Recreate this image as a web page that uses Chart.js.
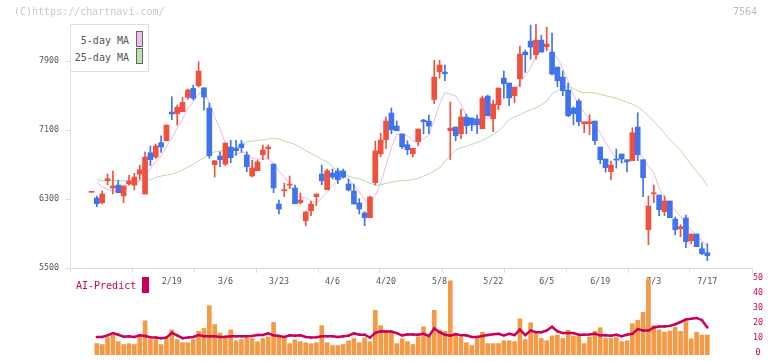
<!DOCTYPE html>
<html>
<head>
<meta charset="utf-8">
<script src="https://cdn.jsdelivr.net/npm/chart.js@4.4.1/dist/chart.umd.min.js"></script>
<style>
  body { margin: 0; background: #fff; }
  #wrap { position: relative; width: 772px; height: 361px; overflow: hidden; font-family: 'DejaVu Sans Mono', monospace; }
  canvas { position: absolute; left: 0; }
  #main { top: 0; }
  #sub { top: 270px; }
  .txt { position: absolute; white-space: pre; font-size: 10px; line-height: 12px; }
  #legend { position: absolute; left: 70px; top: 24px; width: 79px; height: 48px; box-sizing: border-box; border: 1px solid #ddd; background: #fff; }
  .sw { position: absolute; width: 7px; height: 16px; box-sizing: border-box; border: 1px solid #666; }
</style>
</head>
<body>
<div id="wrap">
  <canvas id="main" width="772" height="300"></canvas>
  <canvas id="sub" width="772" height="91"></canvas>
  <div class="txt" style="left:14px;top:6px;color:#c8c8c8">(C)https://chartnavi.com/</div>
  <div class="txt" style="left:733px;top:6px;color:#bbb">7564</div>
  <div id="legend">
    <div class="txt" style="right:19px;top:10px;color:#555">5-day MA</div>
    <div class="txt" style="right:19px;top:27px;color:#555">25-day MA</div>
    <div class="sw" style="left:65px;top:6px;background:#efbdef"></div>
    <div class="sw" style="left:65px;top:23px;background:#bfe0b0"></div>
  </div>
  <div class="txt" style="left:76px;top:280px;color:#c8005a">AI-Predict</div>
  <div style="position:absolute;left:142px;top:277px;width:7px;height:16px;background:#c8005a"></div>
</div>
<script>
// trading days shown on the chart
const dates = [
  '1/28','1/29','1/30','2/2','2/3','2/4','2/5','2/6','2/9','2/10',
  '2/12','2/13','2/16','2/17','2/18','2/19','2/20','2/24','2/25','2/26',
  '2/27','3/2','3/3','3/4','3/5','3/6','3/9','3/10','3/11','3/12',
  '3/13','3/16','3/17','3/18','3/19','3/23','3/24','3/25','3/26','3/27',
  '3/30','3/31','4/1','4/2','4/3','4/6','4/7','4/8','4/9','4/10',
  '4/13','4/14','4/15','4/16','4/17','4/20','4/21','4/22','4/23','4/24',
  '4/27','4/28','4/30','5/1','5/7','5/8','5/11','5/12','5/13','5/14',
  '5/15','5/18','5/19','5/20','5/21','5/22','5/25','5/26','5/27','5/28',
  '5/29','6/1','6/2','6/3','6/4','6/5','6/8','6/9','6/10','6/11',
  '6/12','6/15','6/16','6/17','6/18','6/19','6/22','6/23','6/24','6/25',
  '6/26','6/29','6/30','7/1','7/2','7/3','7/6','7/7','7/8','7/9',
  '7/10','7/13','7/14','7/15','7/16','7/17'
];

const opens = [
  6378,6312,6257,6512,6428,6462,6338,6477,6462,6590,
  6358,6837,6787,6953,6976,7309,7289,7312,7479,7583,
  7614,7590,7355,6698,6799,6706,6903,6891,6938,6810,
  6567,6628,6814,6883,6706,6242,6396,6462,6428,6257,
  6048,6164,6327,6590,6408,6601,6625,6625,6474,6393,
  6254,6138,6083,6489,6825,6988,7297,7146,7054,6930,
  6825,6964,7216,7204,7455,7776,7772,7092,7135,7057,
  7251,7239,7228,7115,7494,7231,7393,7703,7645,7498,
  7695,8004,8132,7973,8143,8066,8004,7830,7714,7564,
  7355,7436,7173,7173,7204,6903,6764,6617,6764,6822,
  6756,6744,7135,6756,5944,6361,6346,6153,6277,6068,
  5956,6080,5817,5894,5724,5677
];
const highs = [
  6378,6335,6393,6590,6625,6517,6451,6575,6598,6694,
  6848,6915,6938,7034,7158,7486,7390,7479,7575,7622,
  7892,7590,7413,6744,6848,6949,6981,6981,6981,6848,
  6752,6752,6926,6926,6706,6288,6485,6567,6462,6370,
  6161,6273,6358,6694,6648,6648,6659,6648,6532,6474,
  6304,6153,6335,6972,7065,7251,7355,7204,7054,6976,
  6888,7112,7224,7274,7908,7908,7854,7425,7135,7343,
  7286,7239,7274,7494,7506,7448,7587,7784,7645,7598,
  8074,8027,8317,8329,8201,8294,8225,7830,7784,7645,
  7367,7459,7196,7277,7204,6903,6764,6740,6880,6822,
  6756,7127,7301,6756,6335,6462,6346,6335,6277,6091,
  6002,6114,5894,5894,5793,5782
];
const lows = [
  6378,6211,6242,6466,6358,6373,6257,6462,6404,6528,
  6358,6686,6772,6841,6976,7219,7158,7312,7459,7448,
  7599,7332,6772,6555,6674,6686,6721,6807,6841,6617,
  6555,6628,6756,6764,6373,6126,6327,6419,6245,6242,
  5990,6106,6222,6466,6408,6532,6477,6543,6393,6242,
  6126,5990,6083,6462,6790,6883,7057,7092,6883,6814,
  6790,6918,7057,7057,7405,7703,7672,6756,6976,6999,
  7057,7092,7057,7115,7266,7080,7335,7474,7382,7417,
  7602,7769,7923,7923,8004,8019,7738,7602,7498,7254,
  7161,7150,7069,7045,6930,6709,6613,6524,6659,6717,
  6613,6744,6744,6327,5770,6257,6106,6106,6083,5886,
  5863,5735,5782,5747,5654,5585
];
const closes = [
  6378,6245,6358,6535,6451,6373,6451,6509,6555,6640,
  6787,6756,6915,6903,7158,7286,7363,7421,7564,7468,
  7784,7483,6802,6744,6756,6949,6779,6860,6895,6674,
  6659,6729,6868,6903,6428,6184,6408,6474,6245,6288,
  6149,6242,6358,6512,6628,6555,6524,6555,6404,6242,
  6184,6083,6323,6857,6984,7204,7103,7092,6906,6872,
  6888,7112,7196,7146,7714,7854,7753,7123,7034,7251,
  7150,7161,7161,7471,7266,7401,7587,7637,7474,7598,
  7981,7973,8062,8143,8004,8097,7749,7672,7556,7266,
  7289,7196,7196,7196,6976,6756,6663,6694,6752,6764,
  6733,7069,6814,6547,6219,6373,6176,6277,6083,5944,
  5979,5805,5894,5747,5666,5643
];

const ma5 = [
  null,6494,6443,6412,6393,6392,6434,6464,6468,6506,
  6588,6649,6731,6800,6904,7004,7125,7226,7358,7420,
  7520,7544,7420,7256,7114,6947,6806,6818,6848,6831,
  6773,6763,6765,6767,6717,6622,6558,6479,6348,6320,
  6313,6280,6256,6310,6378,6459,6515,6555,6533,6456,
  6382,6294,6247,6338,6486,6690,6894,7048,7058,7035,
  6972,6974,6995,7043,7211,7404,7533,7518,7496,7403,
  7262,7144,7151,7239,7242,7292,7377,7472,7473,7539,
  7655,7733,7818,7951,8033,8056,8011,7933,7816,7668,
  7506,7396,7301,7229,7171,7064,6957,6857,6768,6726,
  6721,6802,6826,6785,6676,6604,6426,6318,6226,6171,
  6092,6018,5941,5874,5818,5751
];
const ma25 = [
  null,6524,6512,6512,6512,6512,6512,6512,6512,6512,
  6512,6524,6551,6567,6578,6586,6609,6640,6671,6702,
  6741,6779,6818,6845,6857,6865,6872,6891,6940,6965,
  6972,6980,6984,6996,7004,6996,6972,6953,6934,6899,
  6860,6830,6795,6760,6729,6674,6628,6598,6563,6547,
  6535,6512,6482,6462,6462,6482,6494,6509,6512,6517,
  6524,6540,6567,6590,6625,6663,6741,6802,6865,6895,
  6914,6934,6957,6980,7011,7050,7088,7150,7224,7251,
  7274,7312,7332,7359,7390,7436,7520,7560,7599,7602,
  7583,7549,7533,7537,7529,7514,7498,7483,7471,7444,
  7421,7401,7367,7324,7266,7201,7138,7062,6988,6926,
  6868,6779,6694,6617,6547,6454
];

const volume = [
  null,7.6,7.0,11.6,13.3,8.9,7.0,7.6,7.0,12.2,
  22.8,10.3,10.3,7.0,10.3,16.7,10.3,8.2,8.2,10.3,
  15.8,17.7,32.9,20.3,14.6,11.4,16.7,9.5,10.3,11.4,
  11.0,8.9,11.0,12.0,21.7,11.8,11.4,7.6,10.1,8.9,
  8.2,7.6,8.2,19.6,8.2,6.3,6.3,7.0,9.5,11.0,
  8.2,11.4,8.9,29.8,19.6,15.0,15.6,7.6,10.8,8.9,
  7.0,12.2,18.8,13.1,29.8,16.7,15.8,49.4,13.1,11.6,
  8.2,6.3,11.0,15.2,7.6,7.6,7.6,9.5,9.5,8.9,
  24.1,10.3,21.5,14.1,11.0,9.5,12.7,13.3,11.0,16.5,
  12.7,12.7,7.6,12.0,15.8,18.2,11.0,11.0,11.6,8.9,
  9.5,20.9,23.2,28.5,50.7,19.6,16.7,15.2,16.0,18.4,
  15.8,22.2,10.8,15.2,13.3,13.3
];
const aiPredict = [
  null,12.0,12.0,13.1,14.6,13.5,12.2,12.5,12.0,13.1,
  12.7,11.8,11.6,11.2,11.6,14.8,13.1,11.2,11.6,12.0,
  13.3,12.5,12.5,12.5,12.0,12.2,12.5,12.5,12.5,12.5,
  12.7,13.3,13.3,14.4,13.1,12.7,12.0,13.1,12.9,13.1,
  12.0,11.6,11.8,12.5,12.5,12.5,12.0,12.5,12.9,14.4,
  13.5,13.5,11.6,14.8,15.8,15.6,15.6,14.6,13.1,13.7,
  13.7,13.5,14.1,12.7,17.7,15.2,13.5,12.9,13.9,13.1,
  13.1,12.0,12.0,12.7,13.3,13.9,14.1,13.1,14.1,13.3,
  16.9,13.3,16.3,15.2,15.2,16.3,18.8,15.8,14.6,14.6,
  14.6,13.5,13.5,13.7,14.1,13.1,13.1,12.9,13.5,12.5,
  13.5,14.1,17.3,16.3,16.3,18.4,19.0,19.0,19.4,20.5,
  22.0,23.6,24.1,24.7,23.2,18.4
];

const priceTicks = [5500, 6300, 7100, 7900];
const aiTicks = [0, 10, 20, 30, 40, 50];
const dateTickIdx = [15, 25, 35, 45, 55, 65, 75, 85, 95, 105, 115];

Chart.defaults.font.family = "'DejaVu Sans Mono', monospace";

const UP = '#f0503e';
const DOWN = '#3f74ee';
const candleColors = closes.map((c, i) => c >= opens[i] ? UP : DOWN);

const xMin = -4.015, xMax = 123.34;
const gridTicks = [];
for (let k = 0; k <= 11; k++) gridTicks.push({ value: xMin + k * (xMax - xMin) / 11 });

const pts = arr => arr.map((v, i) => ({ x: i, y: v }));

new Chart(document.getElementById('main'), {
  type: 'bar',
  data: {
    datasets: [
      { type: 'line', data: pts(ma25), borderColor: '#b6dca6', borderWidth: 1, pointRadius: 0, order: 4 },
      { type: 'line', data: pts(ma5), borderColor: '#ebb6eb', borderWidth: 1, pointRadius: 0, order: 3 },
      { data: lows.map((v, i) => ({ x: i, y: [v, highs[i]] })), backgroundColor: candleColors,
        barThickness: 1, minBarLength: 1, grouped: false, order: 2 },
      { data: opens.map((v, i) => ({ x: i, y: [v, closes[i]] })), backgroundColor: candleColors,
        barThickness: 5, minBarLength: 1, grouped: false, order: 1 }
    ]
  },
  options: {
    responsive: false,
    animation: false,
    devicePixelRatio: 1,
    layout: { padding: { top: 24, right: 20, left: 0, bottom: 0 } },
    plugins: { legend: { display: false }, tooltip: { enabled: false } },
    scales: {
      x: {
        type: 'linear', position: 'bottom', min: xMin, max: xMax, weight: 0, offset: false,
        border: { color: '#ddd' },
        grid: { drawOnChartArea: false, tickLength: 5, color: '#ddd', offset: false },
        ticks: { display: false },
        afterBuildTicks: s => { s.ticks = gridTicks.slice(); },
        afterFit: s => { s.height = 5; }
      },
      xd: {
        type: 'linear', position: 'bottom', min: xMin, max: xMax, weight: 1, offset: false,
        border: { display: false },
        grid: { display: false, drawTicks: false, offset: false },
        ticks: {
          color: '#555', font: { size: 8.3 }, padding: 4, maxRotation: 0, autoSkip: false,
          callback: v => dates[v]
        },
        afterBuildTicks: s => { s.ticks = dateTickIdx.map(v => ({ value: v })); },
        afterFit: s => { s.height = 27; }
      },
      y: {
        min: 5500, max: 8330,
        border: { color: '#ddd' },
        grid: { drawOnChartArea: false, tickLength: 5, color: '#ddd' },
        ticks: { color: '#555', font: { size: 8.3 }, padding: 6, callback: v => String(v) },
        afterBuildTicks: s => { s.ticks = priceTicks.map(v => ({ value: v })); },
        afterFit: s => { s.width = 70; }
      }
    }
  }
});

new Chart(document.getElementById('sub'), {
  type: 'bar',
  data: {
    datasets: [
      { type: 'line', data: pts(aiPredict), borderColor: '#c8005a', borderWidth: 2.5,
        pointStyle: 'rect', pointRadius: 1.6, pointBackgroundColor: '#c8005a', pointBorderWidth: 0, order: 1 },
      { data: pts(volume), backgroundColor: '#f29a45', barThickness: 4, order: 2 }
    ]
  },
  options: {
    responsive: false,
    animation: false,
    devicePixelRatio: 1,
    layout: { padding: { top: 8, right: 0, left: 70, bottom: 2 } },
    plugins: { legend: { display: false }, tooltip: { enabled: false } },
    scales: {
      x: { type: 'linear', min: xMin, max: xMax, display: false, offset: false, grid: { offset: false } },
      y: {
        position: 'right', min: 0, max: 51.3,
        border: { display: false },
        grid: { display: false, drawTicks: false },
        ticks: { color: '#c8005a', font: { size: 8.3 }, padding: 1, crossAlign: 'center', labelOffset: -2 },
        afterBuildTicks: s => { s.ticks = aiTicks.map(v => ({ value: v })); },
        afterFit: s => { s.width = 20; }
      }
    }
  }
});
</script>
</body>
</html>
